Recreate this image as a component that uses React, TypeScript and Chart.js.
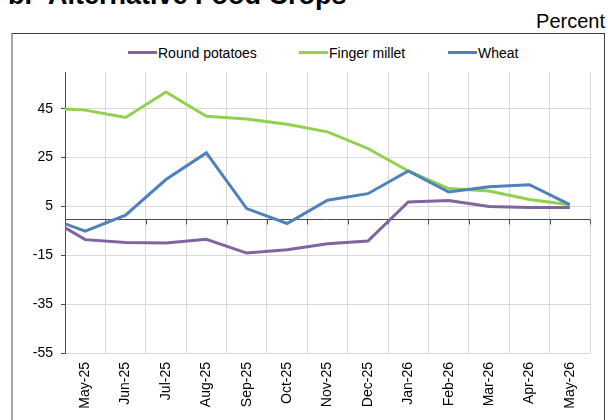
import React, { useEffect, useRef } from 'react';
import { Chart, registerables } from 'chart.js';

Chart.register(...registerables);

// Apr-25 lies just off the left edge of the plot; its segment is clipped at the axis.
const categories = ['Apr-25', 'May-25', 'Jun-25', 'Jul-25', 'Aug-25', 'Sep-25', 'Oct-25', 'Nov-25', 'Dec-25', 'Jan-26', 'Feb-26', 'Mar-26', 'Apr-26', 'May-26'];
const firstShown = 1;
const shownMonths = categories.slice(firstShown);

const roundPotatoes = [1.2, -8.6, -9.8, -10.0, -8.5, -14.1, -12.7, -10.3, -9.2, 6.8, 7.4, 5.0, 4.5, 4.5];
const fingerMillet = [45.4, 44.4, 41.4, 51.8, 41.9, 40.8, 38.6, 35.5, 28.7, 19.5, 12.3, 11.3, 7.8, 5.7];
const wheat = [0.9, -5.1, 1.4, 16.0, 26.9, 4.1, -2.0, 7.5, 10.2, 19.5, 10.9, 13.0, 13.9, 5.7];

const yTicks = [-55, -35, -15, 5, 25, 45];
const yMin = -55;
const yMax = 60;

const seriesNames = ['Round potatoes', 'Finger millet', 'Wheat'];
const seriesColors = ['#8064A2', '#92D050', '#4F81BD'];

const FONT = '"Liberation Sans", Arial, Helvetica, sans-serif';
const GRID = '#D9D9D9';
const AXIS = '#4D4D4D';

const zeroLine = {
  id: 'zeroLine',
  beforeDatasetsDraw(chart: any) {
    const { ctx, chartArea, scales } = chart;
    const x = scales.x;
    const y = scales.y;
    const py = Math.round(y.getPixelForValue(0)) + 0.5;
    ctx.save();
    ctx.strokeStyle = AXIS;
    ctx.lineWidth = 1;
    ctx.beginPath();
    ctx.moveTo(chartArea.left, py);
    ctx.lineTo(chartArea.right, py);
    for (let i = 0; i <= shownMonths.length; i++) {
      const px = Math.round(x.getPixelForValue(i - 0.5)) + 0.5;
      ctx.moveTo(px, py);
      ctx.lineTo(px, py + 5);
    }
    ctx.stroke();
    ctx.restore();
  },
};

const toPoints = (vals: number[]) => vals.map((v, i) => ({ x: i - firstShown, y: v }));

export default function App() {
  const ref = useRef<HTMLCanvasElement | null>(null);

  useEffect(() => {
    if (!ref.current) return;
    const series = [roundPotatoes, fingerMillet, wheat];
    const chart = new Chart(ref.current, {
      type: 'line',
      data: {
        datasets: series.map((vals, k) => ({
          label: seriesNames[k],
          data: toPoints(vals),
          borderColor: seriesColors[k],
          backgroundColor: seriesColors[k],
          borderWidth: 3,
          pointRadius: 0,
          tension: 0,
          fill: false,
          clip: 0,
          order: 2 - k,
        })),
      },
      options: {
        responsive: false,
        animation: false,
        events: [],
        layout: { padding: { top: 72, right: 18, left: 0, bottom: 0 } },
        plugins: {
          legend: { display: false },
          tooltip: { enabled: false },
          title: { display: false },
        },
        scales: {
          x: {
            type: 'linear',
            min: -0.5,
            max: shownMonths.length - 0.5,
            afterBuildTicks: (s: any) => {
              s.ticks = shownMonths.map((_, i) => ({ value: i }));
            },
            afterFit: (s: any) => {
              s.height = 67;
            },
            grid: { offset: true, color: GRID, lineWidth: 1, drawTicks: false },
            border: { display: false },
            ticks: {
              autoSkip: false,
              minRotation: 90,
              maxRotation: 90,
              padding: 9,
              color: '#000',
              font: { family: FONT, size: 14 },
              callback: (v: any) => shownMonths[v] ?? '',
            },
          },
          y: {
            type: 'linear',
            min: yMin,
            max: yMax,
            afterBuildTicks: (s: any) => {
              s.ticks = yTicks.map((v) => ({ value: v }));
            },
            afterFit: (s: any) => {
              s.width = 65;
            },
            grid: { color: GRID, lineWidth: 1, tickColor: AXIS, tickLength: 4 },
            border: { display: true, color: AXIS, width: 1 },
            ticks: {
              padding: 8,
              color: '#000',
              font: { family: FONT, size: 14 },
              callback: (v: any) => String(v),
            },
          },
        },
      },
      plugins: [zeroLine],
    } as any);
    return () => chart.destroy();
  }, []);

  const legendItems = [
    { x: 128, tx: 158 },
    { x: 299, tx: 329 },
    { x: 448, tx: 478 },
  ];

  return (
    <div style={{ position: 'absolute', left: 0, top: 0, width: 608, height: 420, overflow: 'hidden', background: '#fff', fontFamily: FONT }}>
      <div style={{ position: 'absolute', left: 8, top: -18, fontSize: 27, lineHeight: '27px', fontWeight: 'bold', whiteSpace: 'nowrap', color: '#000' }}>b.</div>
      <div style={{ position: 'absolute', left: 48, top: -18, fontSize: 27, lineHeight: '27px', fontWeight: 'bold', whiteSpace: 'nowrap', color: '#000' }}>Alternative Food Crops</div>
      <div style={{ position: 'absolute', right: 3, top: 11, fontSize: 20, lineHeight: '20px', whiteSpace: 'nowrap', color: '#000' }}>Percent</div>
      <div style={{ position: 'absolute', left: 11, top: 33, width: 594, height: 500, boxSizing: 'border-box', borderTop: '1px solid #404040', borderRight: '1px solid #404040', borderLeft: '2px solid #A6A6A6' }} />
      {legendItems.map((it, k) => (
        <React.Fragment key={k}>
          <div style={{ position: 'absolute', left: it.x, top: 50.5, width: 29, height: 3, background: seriesColors[k] }} />
          <div style={{ position: 'absolute', left: it.tx, top: 45.5, fontSize: 14, lineHeight: '14px', whiteSpace: 'nowrap', color: '#000' }}>{seriesNames[k]}</div>
        </React.Fragment>
      ))}
      <canvas ref={ref} width={608} height={420} style={{ position: 'absolute', left: 0, top: 0, width: 608, height: 420 }} />
    </div>
  );
}
